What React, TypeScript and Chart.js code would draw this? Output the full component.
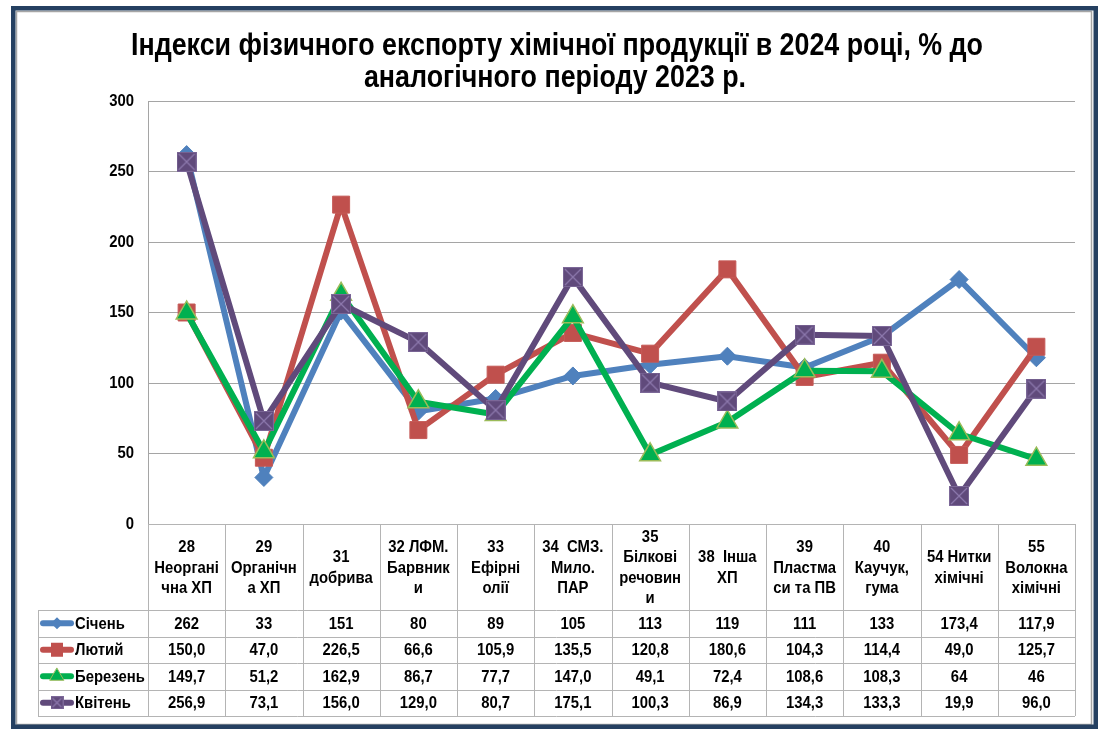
import React, { useEffect, useRef } from 'react';
import { Chart, registerables } from 'chart.js';

Chart.register(...registerables);

const TITLE_LINES = [
  'Індекси фізичного експорту хімічної продукції в 2024 році, % до',
  'аналогічного періоду 2023 р.',
];

const CATEGORIES: string[][] = [
  ['28', 'Неоргані', 'чна ХП'],
  ['29', 'Органічн', 'а ХП'],
  ['31', 'добрива'],
  ['32 ЛФМ.', 'Барвник', 'и'],
  ['33', 'Ефірні', 'олії'],
  ['34  СМЗ.', 'Мило.', 'ПАР'],
  ['35', 'Білкові', 'речовин', 'и'],
  ['38  Інша', 'ХП'],
  ['39', 'Пластма', 'си та ПВ'],
  ['40', 'Каучук,', 'гума'],
  ['54 Нитки', 'хімічні'],
  ['55', 'Волокна', 'хімічні'],
];

const SERIES_NAMES = ['Січень', 'Лютий', 'Березень', 'Квітень'];

// values as printed in the data table
const JAN = ['262', '33', '151', '80', '89', '105', '113', '119', '111', '133', '173,4', '117,9'];
const FEB = ['150,0', '47,0', '226,5', '66,6', '105,9', '135,5', '120,8', '180,6', '104,3', '114,4', '49,0', '125,7'];
const MAR = ['149,7', '51,2', '162,9', '86,7', '77,7', '147,0', '49,1', '72,4', '108,6', '108,3', '64', '46'];
const APR = ['256,9', '73,1', '156,0', '129,0', '80,7', '175,1', '100,3', '86,9', '134,3', '133,3', '19,9', '96,0'];

const Y_MIN = 0;
const Y_MAX = 300;
const Y_STEP = 50;

const toNum = (s: string) => parseFloat(s.replace(',', '.'));

const COLORS = ['#4F81BD', '#C0504D', '#00B050', '#604A7B'];
const FONT = '"Liberation Sans", Arial, sans-serif';
const TEXT_FONT = `bold 16.5px ${FONT}`;
const TEXT_SX = 0.9;

function fillScaled(ctx: CanvasRenderingContext2D, text: string, x: number, y: number, sx: number) {
  ctx.save();
  ctx.translate(x, y);
  ctx.scale(sx, 1);
  ctx.fillText(text, 0, 0);
  ctx.restore();
}

function makeXSquare(size: number): HTMLCanvasElement {
  const c = document.createElement('canvas');
  c.width = size;
  c.height = size;
  const g = c.getContext('2d')!;
  g.fillStyle = '#604A7B';
  g.fillRect(0, 0, size, size);
  g.strokeStyle = '#7C6898';
  g.lineWidth = 1;
  g.strokeRect(0.5, 0.5, size - 1, size - 1);
  g.strokeStyle = '#8E7AAE';
  g.lineWidth = 1.2;
  g.beginPath();
  g.moveTo(2, 2);
  g.lineTo(size - 2, size - 2);
  g.moveTo(size - 2, 2);
  g.lineTo(2, size - 2);
  g.stroke();
  return c;
}

function drawLegendMarker(ctx: CanvasRenderingContext2D, idx: number, x: number, y: number) {
  ctx.save();
  if (idx === 0) {
    const r = 6;
    ctx.fillStyle = COLORS[0];
    ctx.beginPath();
    ctx.moveTo(x, y - r);
    ctx.lineTo(x + r, y);
    ctx.lineTo(x, y + r);
    ctx.lineTo(x - r, y);
    ctx.closePath();
    ctx.fill();
  } else if (idx === 1) {
    ctx.fillStyle = COLORS[1];
    ctx.fillRect(x - 6, y - 7, 12, 14);
  } else if (idx === 2) {
    const r = 8;
    ctx.fillStyle = COLORS[2];
    ctx.strokeStyle = '#9BBB59';
    ctx.lineWidth = 1;
    ctx.beginPath();
    ctx.moveTo(x, y - r);
    ctx.lineTo(x + r * 0.866, y + r / 2);
    ctx.lineTo(x - r * 0.866, y + r / 2);
    ctx.closePath();
    ctx.fill();
    ctx.stroke();
  } else {
    const img = makeXSquare(13);
    ctx.drawImage(img, x - 6.5, y - 6.5);
  }
  ctx.restore();
}

const framePlugin = {
  id: 'frameTitleTable',
  beforeDraw(chart: any) {
    const ctx: CanvasRenderingContext2D = chart.ctx;
    ctx.save();
    ctx.fillStyle = '#FFFFFF';
    ctx.fillRect(0, 0, chart.width, chart.height);
    // frame
    ctx.strokeStyle = '#A6A6A6';
    ctx.lineWidth = 1.5;
    ctx.strokeRect(16.5, 11.5, 1075, 713);
    ctx.strokeStyle = '#254061';
    ctx.lineWidth = 4.5;
    ctx.strokeRect(13.25, 8.25, 1082.5, 718.5);
    // title
    ctx.font = `bold 31px ${FONT}`;
    const w1 = ctx.measureText(TITLE_LINES[0]).width;
    const sx = 852 / w1;
    ctx.fillStyle = '#000';
    ctx.textAlign = 'center';
    ctx.textBaseline = 'alphabetic';
    fillScaled(ctx, TITLE_LINES[0], 557, 55, sx);
    fillScaled(ctx, TITLE_LINES[1], 555, 87, sx);
    ctx.restore();
  },
  afterDraw(chart: any) {
    const ctx: CanvasRenderingContext2D = chart.ctx;
    const { left, right, bottom } = chart.chartArea;
    const xs = chart.scales.x;
    const ys = chart.scales.y;
    const n = CATEGORIES.length;
    const colW = (right - left) / n;
    const headerBottom = bottom + 86;
    const rowH = 26.5;
    const tableBottom = headerBottom + 4 * rowH;
    const legendLeft = 38;
    const px = (v: number) => Math.round(v) + 0.5;

    ctx.save();
    ctx.strokeStyle = '#B4B4B4';
    ctx.lineWidth = 1;
    ctx.beginPath();
    ctx.moveTo(left, px(bottom));
    ctx.lineTo(right, px(bottom));
    for (let r = 0; r <= 4; r++) {
      const y = px(headerBottom + r * rowH);
      ctx.moveTo(legendLeft, y);
      ctx.lineTo(right, y);
    }
    for (let i = 0; i <= n; i++) {
      const x = px(left + i * colW);
      ctx.moveTo(x, bottom);
      ctx.lineTo(x, tableBottom);
    }
    ctx.moveTo(px(legendLeft), headerBottom);
    ctx.lineTo(px(legendLeft), tableBottom);
    ctx.stroke();

    ctx.fillStyle = '#000';
    ctx.font = TEXT_FONT;
    ctx.textBaseline = 'middle';

    // y tick labels
    ctx.textAlign = 'right';
    ys.ticks.forEach((t: any) => {
      fillScaled(ctx, String(t.value), 134, ys.getPixelForValue(t.value), TEXT_SX);
    });

    ctx.textAlign = 'center';
    const lh = 20.5;
    const hc = (bottom + headerBottom) / 2 + 1;
    CATEGORIES.forEach((lines, i) => {
      const cx = xs.getPixelForValue(i);
      const start = hc - ((lines.length - 1) * lh) / 2;
      lines.forEach((t, k) => fillScaled(ctx, t, cx, start + k * lh, TEXT_SX));
    });

    const rows = [JAN, FEB, MAR, APR];
    rows.forEach((row, r) => {
      const cy = headerBottom + (r + 0.5) * rowH + 1;
      row.forEach((t, i) => fillScaled(ctx, t, xs.getPixelForValue(i), cy, TEXT_SX));
    });

    SERIES_NAMES.forEach((name, r) => {
      const cy = headerBottom + (r + 0.5) * rowH;
      ctx.strokeStyle = COLORS[r];
      ctx.lineWidth = 6;
      ctx.lineCap = 'round';
      ctx.beginPath();
      ctx.moveTo(43, cy);
      ctx.lineTo(71, cy);
      ctx.stroke();
      drawLegendMarker(ctx, r, 57, cy);
      ctx.fillStyle = '#000';
      ctx.textAlign = 'left';
      fillScaled(ctx, name, 75, cy + 1, TEXT_SX);
    });
    ctx.restore();
  },
};

export default function App() {
  const ref = useRef<HTMLCanvasElement>(null);
  useEffect(() => {
    const canvas = ref.current!;
    const xSquare = makeXSquare(20);
    const common = {
      borderWidth: 6,
      tension: 0,
      borderJoinStyle: 'round' as const,
      borderCapStyle: 'round' as const,
      pointBorderWidth: 1,
    };
    const chart = new Chart(canvas, {
      type: 'line',
      data: {
        labels: CATEGORIES.map((c) => c.join(' ')),
        datasets: [
          {
            ...common,
            label: SERIES_NAMES[0],
            data: JAN.map(toNum),
            borderColor: COLORS[0],
            backgroundColor: COLORS[0],
            pointStyle: 'rectRot',
            pointRadius: 9,
            pointBackgroundColor: COLORS[0],
            pointBorderColor: COLORS[0],
            order: 4,
          },
          {
            ...common,
            label: SERIES_NAMES[1],
            data: FEB.map(toNum),
            borderColor: COLORS[1],
            backgroundColor: COLORS[1],
            pointStyle: 'rect',
            pointRadius: 12,
            pointBackgroundColor: COLORS[1],
            pointBorderColor: '#C55A57',
            order: 3,
          },
          {
            ...common,
            label: SERIES_NAMES[2],
            data: MAR.map(toNum),
            borderColor: COLORS[2],
            backgroundColor: COLORS[2],
            pointStyle: 'triangle',
            pointRadius: 12,
            pointBackgroundColor: COLORS[2],
            pointBorderColor: '#9BBB59',
            pointBorderWidth: 1.5,
            order: 2,
          },
          {
            ...common,
            label: SERIES_NAMES[3],
            data: APR.map(toNum),
            borderColor: COLORS[3],
            backgroundColor: COLORS[3],
            pointStyle: xSquare as any,
            pointRadius: 10,
            order: 1,
          },
        ],
      },
      options: {
        responsive: false,
        animation: false,
        events: [],
        layout: { padding: { left: 0, right: 31, top: 101, bottom: 205 } },
        plugins: {
          legend: { display: false },
          tooltip: { enabled: false },
          title: { display: false },
        },
        scales: {
          x: { type: 'category', display: false, offset: true },
          y: {
            min: Y_MIN,
            max: Y_MAX,
            ticks: {
              stepSize: Y_STEP,
              display: false,
            },
            grid: { color: '#A5A5A5', lineWidth: 1, drawTicks: false },
            border: { display: true, color: '#A5A5A5' },
            afterFit(scale: any) {
              scale.width = 148;
            },
          },
        },
      },
      plugins: [framePlugin],
    });
    return () => chart.destroy();
  }, []);
  return (
    <div style={{ position: 'fixed', left: 0, top: 0, width: 1106, height: 729, background: '#fff' }}>
      <canvas ref={ref} width={1106} height={729} style={{ display: 'block' }} />
    </div>
  );
}
